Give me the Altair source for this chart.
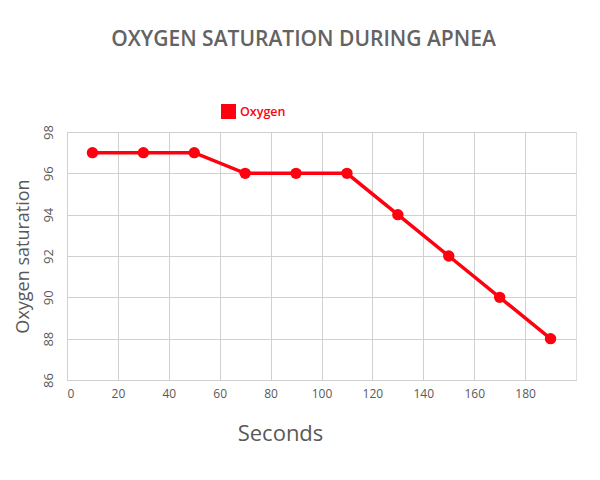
import altair as alt
import pandas as pd

seconds = [10, 30, 50, 70, 90, 110, 130, 150, 170, 190]
oxygen = [97, 97, 97, 96, 96, 96, 94, 92, 90, 88]
series = ["Oxygen"] * len(seconds)

df = pd.DataFrame({"Seconds": seconds, "Oxygen saturation": oxygen, "Series": series})

RED = "#FF0010"
GRAY = "#595959"
FONT = "Open Sans"

color = alt.Color(
    "Series:N",
    scale=alt.Scale(domain=["Oxygen"], range=[RED]),
    legend=alt.Legend(
        title=None,
        orient="none",
        legendX=154,
        legendY=-28,
        symbolType="square",
        symbolSize=225,
        symbolStrokeWidth=0,
        labelColor=RED,
        labelFont=FONT,
        labelFontSize=12.5,
        labelFontWeight=600,
        padding=0,
    ),
)

x = alt.X(
    "Seconds:Q",
    scale=alt.Scale(domain=[0, 200], nice=False),
    axis=alt.Axis(
        values=[0, 20, 40, 60, 80, 100, 120, 140, 160, 180],
        title="Seconds",
        titleFontSize=22,
        titleFont=FONT,
        titleFontWeight="normal",
        titleColor=GRAY,
        titleX=213,
        titleY=60,
        titleBaseline="alphabetic",
        labelFontSize=12,
        labelFont=FONT,
        labelColor=GRAY,
        labelPadding=8,
        ticks=False,
        domainColor="#D0D0D0",
        gridColor="#D0D0D0",
    ),
)

y = alt.Y(
    "Oxygen saturation:Q",
    scale=alt.Scale(domain=[86, 98], nice=False, zero=False),
    axis=alt.Axis(
        values=[86, 88, 90, 92, 94, 96, 98],
        title="Oxygen saturation",
        titleFontSize=18,
        titleFont=FONT,
        titleFontWeight="normal",
        titleColor=GRAY,
        titlePadding=10,
        labelAngle=270,
        labelAlign="center",
        labelBaseline="bottom",
        labelFontSize=13,
        labelFont=FONT,
        labelColor=GRAY,
        labelPadding=12,
        ticks=False,
        domainColor="#D0D0D0",
        gridColor="#D0D0D0",
    ),
)

base = alt.Chart(df).encode(x=x, y=y, color=color)
line = base.mark_line(strokeWidth=3.5)
points = base.mark_circle(size=130, opacity=1)

chart = (
    (line + points)
    .properties(
        width=509,
        height=248,
        title=alt.TitleParams(
            "OXYGEN SATURATION DURING APNEA",
            font=FONT,
            fontSize=21,
            fontWeight=600,
            color="#636363",
            anchor="middle",
            dx=-18,
            offset=54,
        ),
        padding={"left": 59, "top": 124, "right": 16, "bottom": 92},
        autosize=alt.AutoSizeParams(type="none"),
    )
    .configure_view(stroke="#D0D0D0")
    .configure(background="white")
)

chart.save("out.html", embed_options={"renderer": "svg", "actions": False})
